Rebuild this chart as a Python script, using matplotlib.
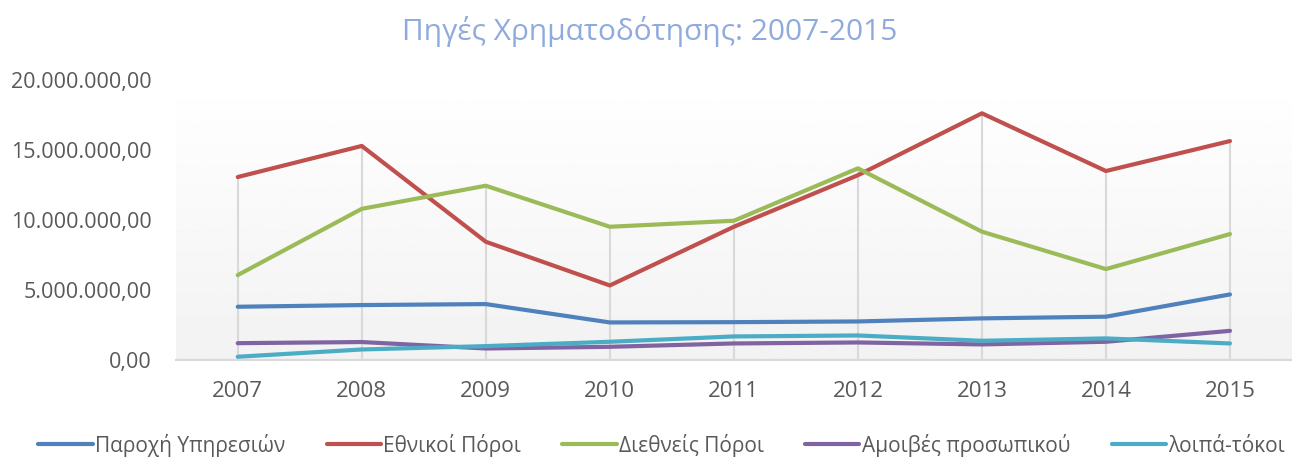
import matplotlib
matplotlib.use("Agg")
import matplotlib.pyplot as plt
import numpy as np
from matplotlib.ticker import FuncFormatter, MultipleLocator

# Δεδομένα (εκτίμηση από το γράφημα)
years = ['2007', '2008', '2009', '2010', '2011', '2012', '2013', '2014', '2015']
parochi = [3.81e6, 3.93e6, 4.00e6, 2.69e6, 2.71e6, 2.76e6, 2.98e6, 3.10e6, 4.69e6]
ethnikoi = [13.07e6, 15.29e6, 8.45e6, 5.33e6, 9.52e6, 13.2e6, 17.62e6, 13.50e6, 15.64e6]
diethneis = [6.07e6, 10.80e6, 12.45e6, 9.52e6, 9.95e6, 13.69e6, 9.17e6, 6.50e6, 9.00e6]
amoives = [1.21e6, 1.29e6, 0.83e6, 0.95e6, 1.19e6, 1.26e6, 1.12e6, 1.31e6, 2.09e6]
loipa = [0.24e6, 0.76e6, 1.00e6, 1.31e6, 1.69e6, 1.76e6, 1.38e6, 1.55e6, 1.19e6]

series = [
    ('Παροχή Υπηρεσιών', parochi, '#4F81BD'),
    ('Εθνικοί Πόροι', ethnikoi, '#C0504D'),
    ('Διεθνείς Πόροι', diethneis, '#9BBB59'),
    ('Αμοιβές προσωπικού', amoives, '#8064A2'),
    ('λοιπά-τόκοι', loipa, '#4BACC6'),
]

plt.rcParams['font.family'] = ['Open Sans', 'DejaVu Sans']

fig = plt.figure(figsize=(12.92, 4.57), dpi=100)
ax = fig.add_axes([0.136, 0.212, 0.864, 0.613])

x = np.arange(len(years))

# Φόντο με διαβάθμιση
grad = np.linspace(1.0, 0.949, 256).reshape(-1, 1)
ax.imshow(grad, aspect='auto', cmap='gray', vmin=0, vmax=1,
          extent=[-0.5, len(years) - 0.5, 0, 20e6], origin='upper', zorder=0)

# Γραμμές πτώσης (από το υψηλότερο σημείο ως τον άξονα)
tops = np.max([s[1] for s in series], axis=0)
ax.vlines(x, 0, tops, color='#D9D9D9', linewidth=1.5, zorder=1)

for label, vals, color in series:
    ax.plot(x, vals, color=color, linewidth=3, label=label,
            solid_capstyle='round', zorder=3)

ax.set_xlim(-0.5, len(years) - 0.5)
ax.set_ylim(0, 20e6)
ax.set_xticks(x)
ax.set_xticklabels(years)
ax.yaxis.set_major_locator(MultipleLocator(5e6))


def fmt(v, pos):
    s = f"{v:,.2f}"
    return s.replace(',', 'X').replace('.', ',').replace('X', '.')


ax.yaxis.set_major_formatter(FuncFormatter(fmt))
ax.tick_params(axis='both', length=0, labelsize=16, colors='#595959')
ax.tick_params(axis='y', labelsize=15.5, pad=17)
ax.tick_params(axis='x', pad=15)

for s in ['top', 'right', 'left']:
    ax.spines[s].set_visible(False)
ax.spines['bottom'].set_color('#D9D9D9')
ax.spines['bottom'].set_linewidth(1.5)

fig.text(0.503, 0.93, 'Πηγές Χρηματοδότησης: 2007-2015', ha='center', va='center',
         fontsize=21.5, color='#8FAADC')

fig.legend(loc='lower center', ncol=5, frameon=False, fontsize=15,
           bbox_to_anchor=(0.512, -0.04), handlelength=2.6, columnspacing=2.0,
           handletextpad=0.1, labelcolor='#595959')

fig.savefig('out.png', dpi=100)
